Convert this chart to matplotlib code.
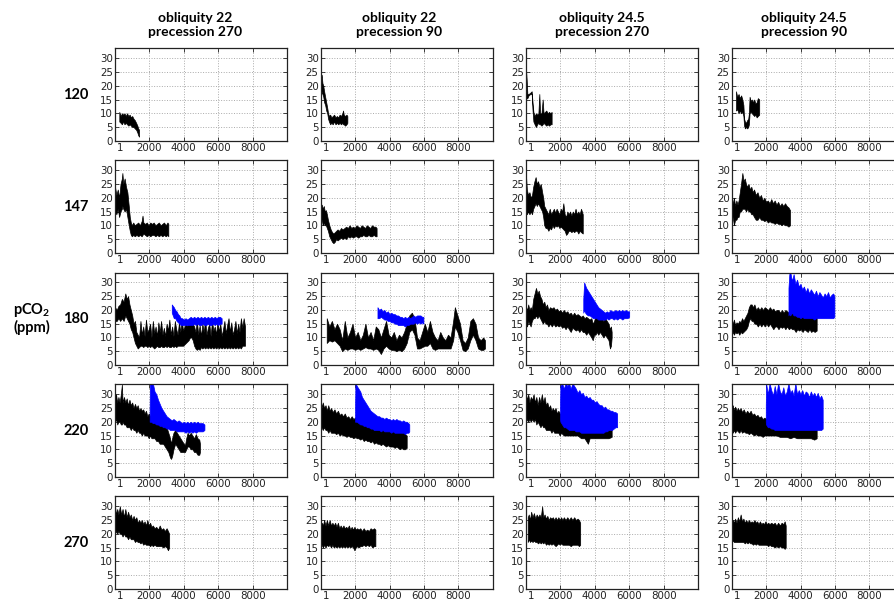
import matplotlib
matplotlib.use("Agg")
import matplotlib.pyplot as plt
from matplotlib.transforms import offset_copy

# ---------------- data (time, lower envelope, upper envelope) ----------------
co2_levels = ["120", "147", "180", "220", "270"]
col_titles = ["obliquity 22\nprecession 270", "obliquity 22\nprecession 90",
              "obliquity 24.5\nprecession 270", "obliquity 24.5\nprecession 90"]
x_ticks = [1, 2000, 4000, 6000, 8000]
x_tick_labels = ["1", "2000", "4000", "6000", "8000"]
y_ticks = [0, 5, 10, 15, 20, 25, 30]

r1c1 = [(250,7,10.5),(330,6.5,9),(400,6,10),(480,7,9.5),(550,6,10),(630,6.5,9),(700,6,10),(780,5.5,9),
        (850,6,9.5),(930,5.5,8.5),(1000,5,9),(1080,5,8),(1150,4.5,7.5),(1230,4,6.5),(1300,3,5.5),
        (1350,2,4.5),(1400,1.5,4)]
r1c2 = [(0,13,25),(30,17,23),(60,18,24),(100,17,21),(150,16,20),(200,14,18),(260,13,16),(320,11,14),
        (380,10,12),(430,8,10),(480,7,9),(550,6,9.5),(620,6.5,8.5),(700,6,9),(780,7,9.5),(860,6,8.5),
        (940,6.5,9),(1020,6,8.5),(1100,6.5,9.5),(1180,6,9),(1260,6.5,10),(1300,6,11),(1340,6,9.5),
        (1420,5.5,9),(1500,6,9.5),(1550,6.5,9)]
r1c3 = [(0,15,26),(40,15.5,22),(80,15.5,17),(150,16.5,17),(250,17,17.5),(330,17,18),(380,11,14),
        (430,7,10.5),(500,6,9),(580,5,10),(650,6,9.5),(720,6.5,10),(775,6,17),(820,6,10),(900,5.5,10),
        (970,6,15),(1020,6.5,10),(1100,6,10.5),(1180,5.5,11),(1260,6,10),(1340,5.5,10.5),(1420,6,10),
        (1490,6,10.5)]
r1c4 = [(250,11,18),(320,11.5,16),(400,10,17),(470,11,15.5),(550,10,16.5),(620,10.5,15),(680,9,13),
        (720,5.5,8),(770,4.5,7),(830,5,6.5),(900,4.5,7.5),(960,5,8),(1000,6,10),(1040,10,16),
        (1100,10.5,14.5),(1170,10,15),(1240,9.5,14),(1310,9,15),(1380,9.5,13.5),(1450,8.5,14),
        (1520,9,15.5),(1600,9.5,15)]

r2c1 = [(0,15,24),(80,14,21),(160,16,23),(240,13,20),(320,15,25),(400,16,27),(430,17,29),(480,16,25),
        (560,15,27),(640,16,24),(720,13,22),(800,10,17),(860,8,13),(920,6.5,11),(980,6,10),(1060,6.5,11),
        (1150,6,10),(1250,6.5,10.5),(1350,6,11),(1450,6.5,10),(1550,6,11.5),(1600,6.5,13.5),(1650,7,11),
        (1750,6.5,10.5),(1850,6,11),(1950,6.5,10),(2050,6,11),(2150,6.5,10.5),(2250,6.5,11),(2350,6,10),
        (2450,6.5,10.5),(2550,6,11),(2650,6.5,10),(2750,6,10.5),(2850,6.5,11),(2950,6,10),(3050,6.5,11),
        (3100,6,10.5)]
r2c2 = [(0,11,17),(60,12,17.5),(120,10,16),(180,11,17),(240,10,15),(300,10,15.5),(360,9,14),(420,8,12),
        (500,6,10),(580,5,8.5),(660,4,7.5),(740,3.5,7),(820,4,7.5),(900,5,8),(980,4.5,8.5),(1080,5,8),
        (1180,5.5,9),(1280,5,8.5),(1380,5.5,9),(1480,5,9.5),(1580,6,9),(1680,5.5,10),(1780,6,9),
        (1880,5.5,9.5),(1980,6,9),(2080,6,10),(2180,5.5,9.5),(2280,6,9),(2380,6,10),(2480,6.5,9.5),
        (2580,6,9),(2680,6,10),(2780,6.5,9.5),(2880,6,9),(2980,6,10),(3080,6.5,9.5),(3180,6,9.5),
        (3250,6,9)]
r2c3 = [(0,15,28),(50,14,23),(120,15,21),(200,14,22),(280,15,20),(350,14,21),(420,16,24),(490,17,26),
        (560,18,27.5),(630,17,25),(700,18,26),(780,17,24),(860,16,25),(940,15,22),(1000,13,20),
        (1060,10,17),(1140,9,16),(1220,9,15),(1300,8,14),(1380,9,16),(1460,8.5,14),(1540,10,15),
        (1620,9,16),(1700,10,14.5),(1780,9.5,16),(1860,10,15),(1940,9,14),(2020,9.5,16),(2100,9,15),
        (2170,8.5,18),(2250,8,14),(2330,6.5,13),(2400,7,15),(2480,8,14),(2560,8,15),(2640,7.5,13.5),
        (2720,8,15),(2800,7.5,14),(2880,8,16),(2960,8,14),(3040,7,15),(3120,8,14),(3200,7.5,16),
        (3300,7,14)]
r2c4 = [(0,12,19),(60,13,18),(130,10,20),(200,12,17),(270,12,19),(340,13,17.5),(400,13,19),(470,15,22),
        (540,15,25),(620,16,29),(690,16,26),(760,16,27),(830,15,25),(900,16,24),(980,15,25),(1060,15,23),
        (1140,14,24),(1220,14,22),(1300,13,23),(1400,12,21),(1500,12,22),(1600,13,20),(1700,12,21),
        (1800,12,19),(1900,11.5,20),(2000,12,18.5),(2100,11,19),(2200,11.5,18),(2300,11,19.5),
        (2400,11,18),(2500,10.5,19),(2600,11,17.5),(2700,10.5,18.5),(2800,10.5,17),(2900,10,18),
        (3000,10.5,17),(3100,10,18),(3200,10,17),(3300,9.5,16.5),(3390,10,15.5)]

r3c1 = [(0,16,21),(100,16,20),(200,17,21.5),(300,16,22),(400,17,24),(500,16,23),(600,18,26),(680,17,24),
        (760,16,25),(840,15,22),(920,13,20),(1000,12,18),(1080,10,15),(1160,8,16),(1240,7,12),(1320,6,11),
        (1400,6.5,10),(1480,7,16),(1560,7,11),(1640,6.5,14),(1720,7,10.5),(1800,7,16.5),(1880,6.5,12),
        (1960,7,13),(2040,6.5,15),(2120,7,10),(2200,6.5,16),(2280,6,11.5),(2360,6.5,14),(2440,7,10.5),
        (2520,6.5,15.5),(2600,6.5,12),(2680,7,16),(2760,6.5,11),(2840,6.5,13.5),(2920,7,10.5),
        (3000,6.5,15),(3080,7,12.5),(3160,6.5,16.5),(3240,6.5,11),(3320,7,14),(3400,6.5,10.5),
        (3480,7,16),(3560,6.5,13),(3640,7,11),(3720,7,15.5),(3800,7,12),(3880,7,16),(3960,7,12.5),
        (4040,7.5,14),(4120,8,15),(4200,8.5,14),(4280,9,16),(4360,10,15),(4440,10,17),(4520,9,15),
        (4600,7,14),(4680,6,12),(4760,5.5,16),(4840,6,11),(4920,5.5,14.5),(5000,6.5,10.5),(5080,6,15),
        (5160,6.5,12),(5240,6,16.5),(5320,6.5,11),(5400,6,13.5),(5480,6.5,15),(5560,6,10.5),
        (5640,6.5,16),(5720,6,12.5),(5800,6.5,14),(5880,6,11),(5960,6.5,16.5),(6040,6,12),(6120,6.5,15),
        (6200,6,10.5),(6280,6.5,13),(6360,6,16),(6440,6.5,11.5),(6520,6,14.5),(6600,6.5,17),
        (6680,6,12),(6760,6.5,15.5),(6840,6,11),(6920,6.5,13),(7000,6,16),(7080,6.5,11.5),(7160,6,15),
        (7240,6.5,12),(7320,6,17),(7400,7,13.5),(7480,7,17),(7560,7,14)]
r3c1_blue = [(3300,19,22),(3360,18,21.5),(3420,17,21),(3500,17,20),(3580,16,19.5),(3660,15.5,18.5),
             (3740,15,18),(3820,14.5,17),(3900,14.5,17),(4000,14.5,16.5),(4100,14.5,17),(4200,14.5,16.5),
             (4300,14.5,17),(4400,14.5,17.5),(4500,14.5,17),(4600,15,17.5),(4700,14.5,17),(4800,15,17.5),
             (4900,14.5,17),(5000,14.5,17.5),(5100,15,17),(5200,14.5,17.5),(5300,14.5,17),(5400,15,17.5),
             (5500,14.5,17),(5600,14.5,17.5),(5700,15,17),(5800,14.5,17.5),(5900,15,17),(6000,14.5,17.5),
             (6100,15,17.5),(6200,15,17)]
r3c2 = [(350,8,17),(500,9,14),(650,8.5,16),(800,9,13),(950,8,15),(1100,7,13),(1250,5,9),(1400,6,16),
        (1550,5.5,10),(1700,6,12),(1850,6,15),(2000,5.5,10),(2150,6,12),(2300,5.5,9),(2450,6,11),
        (2600,6.5,15),(2750,6,10),(2900,6,12),(3050,5.5,9),(3200,6,14),(3350,5.5,13),(3500,4,10),
        (3650,6,13),(3800,7,16),(3950,6,11),(4100,5.5,10),(4250,5.5,12),(4400,5,9),(4550,5.5,11),
        (4700,5,10),(4850,6,12),(5000,8,15),(5150,12,18),(5300,13,19),(5450,11,17),(5600,6,10),
        (5750,6,9),(5900,6.5,12),(6050,7,15),(6200,7,12),(6350,8,16),(6500,6,12),(6650,5.5,10),
        (6800,6,9),(6950,6,12),(7100,6,10),(7250,6,9),(7400,6,11),(7550,6,10),(7700,9,16),(7800,14,21),
        (7950,12,18),(8100,9,15),(8250,5.5,9),(8400,5,8),(8550,6,10),(8700,9,16),(8850,11,17),
        (9000,9,15),(9150,6,10),(9300,5.5,9),(9450,5.5,10),(9550,6,9)]
r3c2_blue = [(3300,17,21),(3400,17,20),(3500,17.5,20.5),(3600,17,19.5),(3700,16.5,20),(3800,16.5,19),
             (3900,16,19.5),(4000,16,18.5),(4100,15.5,19),(4200,15.5,18.5),(4300,15,18.5),(4400,15,18),
             (4500,14.5,18),(4600,14.5,17.5),(4700,14.5,17.5),(4800,14.5,17),(4900,14,17.5),(5000,14.5,17),
             (5100,14.5,17.5),(5200,15,17),(5300,15,17.5),(5400,15,18),(5500,15.5,17.5),(5600,15,18),
             (5700,15.5,18),(5800,15,18),(5900,15.5,17.5),(5970,15,17.5)]
r3c3 = [(0,15,21),(60,14,20),(130,16,22),(200,15,20),(270,14,21),(340,16,20),(420,17,24),(500,17,26),
        (580,18,28),(660,17,26),(740,18,27),(820,17,25),(900,16,24),(980,15,22),(1060,16,23),(1140,15,21),
        (1220,15,22),(1300,14,20),(1400,15,21),(1500,14,20.5),(1600,15,21),(1700,14,20),(1800,14.5,20.5),
        (1900,14,19.5),(2000,14.5,20),(2100,13.5,19),(2200,14,20),(2300,13,19),(2400,14,19.5),
        (2500,13,18.5),(2600,12,19),(2700,13.5,18),(2800,13,19),(2900,12.5,18),(3000,13,18.5),
        (3100,12,18),(3200,13,17.5),(3300,12,18),(3400,12,17),(3500,11,17.5),(3600,12,17),(3700,11,16.5),
        (3800,10,17),(3880,9,15),(3960,11,16),(4040,11,18),(4120,12,17),(4200,11,18),(4300,12,16.5),
        (4400,11,17),(4500,10,16),(4600,11,17),(4700,10,16),(4800,9,15),(4880,6,13),(4940,7,14),
        (4980,10,12)]
r3c3_blue = [(3330,19,24),(3380,20,30),(3440,19,29),(3500,18.5,28),(3600,18,27),(3700,18,26),
             (3800,17.5,25),(3900,17,24),(4000,17,23),(4100,17,22),(4200,16.5,21),(4300,16.5,20.5),
             (4400,16.5,20),(4500,16.5,19.5),(4600,16.5,19),(4700,17,19.5),(4800,16.5,19),(4900,17,20),
             (5000,17,19.5),(5100,16.5,19.5),(5200,17,20),(5300,16.5,19.5),(5400,17,20),(5500,17,19.5),
             (5600,16.5,20),(5700,17,19.5),(5800,17,20),(5900,17,19.5),(6000,17.5,19.5)]
r3c4 = [(0,11,16),(60,12,15),(130,11,16.5),(200,12,14.5),(280,11.5,15.5),(360,12,15),(440,11,16),
        (520,12,15.5),(600,11.5,17),(680,12,16),(760,12.5,17),(840,13,18),(920,14,19),(1000,16,21),
        (1080,17,22),(1160,16,22),(1240,16,21),(1320,15,22),(1420,15,20),(1520,14,21),(1620,15,20),
        (1720,14,21),(1820,15,20),(1920,14,21),(2020,15,20.5),(2120,14,20),(2220,15,21),(2320,14,20),
        (2420,13,20.5),(2520,14,19.5),(2620,14,20),(2720,13,20),(2820,14,19),(2920,13.5,20),(3020,14,19),
        (3120,13,20),(3220,14,19.5),(3320,13,19),(3420,13.5,20),(3520,13,19),(3620,13,19.5),(3720,12,19),
        (3820,13,19.5),(3920,12.5,19),(4020,13,20),(4120,12,19),(4220,13,19.5),(4320,12.5,18.5),
        (4420,12,19),(4520,13,19.5),(4620,12,18.5),(4720,12.5,19),(4820,12,18.5),(4940,12.5,18)]
r3c4_blue = [(3300,18,28),(3350,19,33),(3400,18,34),(3500,19,30.5),(3600,18,33),(3700,18,29.5),
             (3800,17.5,31),(3900,17.5,28.5),(4000,17,29.5),(4100,17.5,27.5),(4200,17,28.5),(4300,17,26.5),
             (4400,17,28),(4500,17,26),(4600,17,27.5),(4700,17,26.5),(4800,16.5,25.5),(4900,17,27),
             (5000,17,25),(5100,17,26.5),(5200,17,25.5),(5300,17,24.5),(5400,17,26),(5500,17,25),
             (5600,17,26.5),(5700,17,24.5),(5800,17,25.5),(5900,17,26),(5970,17.5,25)]

r4c1 = [(0,20,28),(60,21,30),(130,19,27),(200,20,29),(270,20,27),(340,19,30),(400,19,33.5),(440,20,27),
        (520,19,29),(600,19,27),(680,18,28.5),(760,18,26),(840,18,28),(920,17,26),(1000,18,27),
        (1080,17,25),(1160,17,26.5),(1240,16,25),(1320,17,26),(1400,16,24),(1480,16,25),(1560,15,24),
        (1640,16,24.5),(1720,15,23),(1800,15,24),(1880,15,22),(1960,14,23),(2040,15,22),(2120,14,22),
        (2200,14,21),(2300,14,21.5),(2400,13,20),(2500,13,21),(2600,12,19),(2700,12,20),(2800,12,19),
        (2900,11,18),(3000,10,18),(3100,9,16),(3200,7,14),(3260,6.5,12),(3320,7.5,14),(3400,10,16),
        (3500,12,17),(3600,11,16),(3700,10,15),(3800,9,14),(3900,9,13),(4000,9,12),(4070,9,11.5),
        (4140,10,14),(4220,11,16),(4300,11,15),(4400,10,16),(4500,10,15),(4600,9,14),(4700,9,15.5),
        (4800,8,14),(4900,8,13.5),(4940,9,12)]
r4c1_blue = [(2015,20,24),(2030,20,34),(2100,20,34),(2200,19.5,34),(2300,19.5,31),(2400,19,30),
             (2500,19,28),(2600,18.5,26.5),(2700,18.5,25),(2800,18,24),(2900,18,23),(3000,17.5,22),
             (3100,17.5,21.5),(3200,17,21),(3300,17,20.5),(3400,17,21),(3500,17,20.5),(3600,16.5,20),
             (3700,16.5,20.5),(3800,16.5,20),(3900,16.5,19.5),(4000,16.5,20),(4100,16,19.5),(4200,16.5,20),
             (4300,16,19.5),(4400,16.5,20),(4500,16,19.5),(4600,16.5,20),(4700,16,19.5),(4800,16.5,20),
             (4900,16.5,19.5),(5000,16.5,19.5),(5100,16.5,19.5),(5200,17,19)]
r4c2 = [(0,17,29),(50,18,25),(120,17,27),(200,18,25),(280,17,26),(360,17,24),(440,16,26),(520,17,24),
        (600,16,25),(700,16,23.5),(800,16,24.5),(900,15.5,23),(1000,16,24),(1100,15,22.5),(1200,15.5,23),
        (1300,15,22),(1400,15,23),(1500,14.5,21.5),(1600,15,22),(1700,14.5,21),(1800,14.5,22),(1900,14,21),
        (2000,14.5,21.5),(2100,14,20.5),(2200,14,21),(2300,13.5,20),(2400,14,21),(2500,13,20),
        (2600,13.5,20.5),(2700,13,19.5),(2800,13,20),(2900,12.5,19),(3000,13,19.5),(3100,12,19),
        (3200,12.5,19),(3300,12,18.5),(3400,12,19),(3500,11.5,18),(3600,12,18.5),(3700,11.5,18),
        (3800,11,18),(3900,11.5,17.5),(4000,11,18),(4100,11,17),(4200,11,17.5),(4300,10.5,17),
        (4400,11,17.5),(4500,10.5,16.5),(4600,10,17),(4700,10.5,16),(4800,10,16.5),(4900,10,15.5),
        (5000,10.5,15)]
r4c2_blue = [(2000,20,26),(2020,20,34),(2100,20,33),(2200,19.5,32),(2300,19,31),(2400,19,29),(2500,18.5,28),
             (2600,18.5,27),(2700,18,26),(2800,18,25),(2900,17.5,24),(3000,17.5,23.5),(3100,17,23),
             (3200,17,22.5),(3300,17,22),(3400,17,22),(3500,16.5,21.5),(3600,17,21.5),(3700,16.5,21),
             (3800,16.5,21.5),(3900,16.5,21),(4000,16.5,21),(4100,16,20.5),(4200,16.5,21),(4300,16,20.5),
             (4400,16,21),(4500,16,20.5),(4600,16,20.5),(4700,16,20),(4800,16,20.5),(4900,15.5,20),
             (5000,16,20),(5100,16,19.5),(5150,16.5,19)]
r4c3 = [(0,20,30),(60,21,28),(130,20,30),(200,21,27),(280,20,29),(360,21,28),(440,20,30),(520,21,27),
        (600,19,29),(680,20,26),(760,19,29),(840,18,27),(920,19,30),(1000,18,27),(1080,18,29),(1160,17,26),
        (1240,17,27),(1320,17,25),(1400,17,26),(1480,16,24),(1560,17,25),(1640,16,24),(1720,16,25),
        (1800,16,23),(1880,16,24),(1960,15,23),(2040,16,23),(2200,15,22),(2400,15,22),(2600,15,21),
        (2800,15,20.5),(3000,15,20),(3200,14,20),(3400,14,19),(3500,13,19),(3600,12,18.5),(3700,14,19),
        (3800,14,19),(4000,14,19),(4200,14,18.5),(4400,14,19),(4600,14,18.5),(4800,14,18),(4980,14.5,18)]
r4c3_blue = [(1980,21,27),(2000,20,33),(2100,19,34),(2200,18,32),(2300,18,34),(2400,17.5,33),(2500,17,34),
             (2600,17,32),(2700,17,34),(2800,17,33),(2900,16.5,32),(3000,16.5,30.5),(3100,16.5,31.5),
             (3200,16,30),(3300,16,30.5),(3400,16,29),(3500,16,29.5),(3600,16,28.5),(3700,16,29),
             (3800,16,28),(3900,16,28),(4000,16,27),(4100,16,27.5),(4200,16,26.5),(4300,16,26),
             (4400,16,26),(4500,16,25),(4600,16.5,25.5),(4700,16.5,24.5),(4800,17,24.5),(4900,17,24),
             (5000,17,24),(5100,17.5,23.5),(5200,18,23.5),(5300,18,23)]
r4c4 = [(0,17,25),(60,16,26),(130,17,24),(200,16,25.5),(280,17,24),(360,16.5,25),(440,16,24),(520,17,25),
        (600,16,23.5),(700,16.5,24.5),(800,16,23),(900,16,24),(1000,15.5,23),(1100,16,24),(1200,15.5,22.5),
        (1300,15,23),(1400,15.5,22),(1500,15,22.5),(1600,15,21.5),(1700,15,22),(1800,14.5,21),
        (1900,15,21.5),(2000,15,21),(2200,15,21),(2400,15,20.5),(2600,15,20),(2800,14.5,20),
        (3000,14.5,19.5),(3200,14.5,20),(3400,14,19),(3600,14.5,19.5),(3800,14,19),(4000,14,19),
        (4200,14,18.5),(4400,14,19),(4600,14,18.5),(4800,13.5,18.5),(4940,14,17.5)]
r4c4_blue = [(1980,20,26),(2000,19,34),(2100,18,30),(2200,18,34),(2300,17.5,31.5),(2400,17.5,29.5),
             (2500,17,33),(2600,17,30),(2700,17,34),(2800,17,31),(2900,17,30),(3000,17,32.5),(3100,17,29.5),
             (3200,17,31),(3300,17,34),(3400,17,30.5),(3500,17,31.5),(3600,17,29.5),(3700,17,34),
             (3800,17,30),(3900,17,31.5),(4000,17,30),(4100,17,31.5),(4200,17,29.5),(4300,17,31),
             (4400,17,30.5),(4500,17,29),(4600,17,31),(4700,17,29.5),(4800,17,30.5),(4900,17,29),
             (5000,17,30.5),(5100,17,28.5),(5200,17,29.5),(5290,17.5,28)]

r5c1 = [(0,20,30),(60,21,27),(130,20,29),(200,21,27),(280,20,30),(360,20,27),(440,19,29),(520,20,26),
        (600,19,29),(680,19,26),(760,18,28),(840,19,26),(920,18,27),(1000,18,25),(1080,18,26.5),
        (1160,17,25),(1240,17.5,26),(1320,17,24),(1400,17,25),(1480,16.5,24),(1560,17,25),(1640,16,23.5),
        (1720,16.5,24.5),(1800,16,23),(1880,16,25),(1960,16,23),(2040,15.5,24),(2120,16,22.5),
        (2200,15.5,23),(2300,16,22),(2400,15.5,22.5),(2500,15.5,21.5),(2600,15.5,23),(2700,15.5,21.5),
        (2800,15,22),(2900,15.5,21),(3000,15,22),(3080,14,21),(3150,15,20)]
r5c2 = [(0,15,22),(60,16,24),(130,15,23),(200,16,25),(280,15,23),(360,16,25),(440,15.5,23),(520,16,25),
        (600,15,23),(680,16,24),(760,15,23),(840,15.5,24),(920,15,22.5),(1000,15.5,24),(1080,15,22),
        (1160,15.5,23),(1240,15,22),(1320,15.5,23),(1400,15,22),(1480,15.5,22.5),(1560,15,22),
        (1640,15.5,23),(1720,15,21.5),(1800,15.5,22.5),(1880,15,21.5),(1960,14,22.5),(2040,15,21.5),
        (2120,15.5,22),(2200,15,21.5),(2300,15.5,22),(2400,15.5,21),(2500,16,22),(2600,15.5,21),
        (2700,16,21.5),(2800,15.5,21),(2900,16,22),(3000,15,21.5),(3100,15.5,22),(3180,15.5,21.5)]
r5c3 = [(100,17,26),(160,18,27),(230,17,25),(300,17.5,28),(380,17,26),(460,17.5,27.5),(540,17,25.5),
        (620,17,27),(700,16.5,26),(780,17,27),(860,16.5,26),(940,17,30),(1000,16.5,26),(1080,17,27),
        (1160,16,25.5),(1240,16.5,26.5),(1320,16,25),(1400,16.5,26),(1480,16,25.5),(1560,16.5,26),
        (1640,16,25),(1720,15.5,26),(1800,16,25),(1880,16.5,26),(1960,16,25),(2040,16.5,26),(2120,16,25),
        (2200,16,26),(2300,16,25),(2400,16,26),(2500,16,25),(2600,15.5,26),(2700,16,25),(2800,16,26),
        (2900,16,25),(3000,16,25.5),(3080,15.5,25),(3150,16,24)]
r5c4 = [(0,17,24),(60,17.5,25),(130,17,24),(200,17,25.5),(280,17,24),(360,17,26),(440,17,24.5),(520,17,27),
        (600,17,24.5),(680,17,25.5),(760,16.5,24),(840,17,25),(920,16.5,24),(1000,17,25),(1080,16.5,24),
        (1160,16.5,24.5),(1240,16,24),(1320,16.5,25),(1400,16,24),(1480,16.5,24.5),(1560,16,23.5),
        (1640,16,24.5),(1720,16,23.5),(1800,16,24),(1880,16,23.5),(1960,16,24.5),(2040,16,23.5),
        (2120,15.5,24),(2200,16,23.5),(2300,15.5,24),(2400,15.5,23.5),(2500,15,24),(2600,15.5,23),
        (2700,15,24),(2800,15.5,23),(2900,15,24),(3000,15,23.5),(3080,14.5,24.5),(3140,15,23)]

black_runs = [[r1c1, r1c2, r1c3, r1c4],
              [r2c1, r2c2, r2c3, r2c4],
              [r3c1, r3c2, r3c3, r3c4],
              [r4c1, r4c2, r4c3, r4c4],
              [r5c1, r5c2, r5c3, r5c4]]
blue_runs = {(2, 0): r3c1_blue, (2, 1): r3c2_blue, (2, 2): r3c3_blue, (2, 3): r3c4_blue,
             (3, 0): r4c1_blue, (3, 1): r4c2_blue, (3, 2): r4c3_blue, (3, 3): r4c4_blue}

# ---------------- layout ----------------
W, H = 894, 604
plt.rcParams['mathtext.fontset'] = 'custom'
plt.rcParams['mathtext.rm'] = 'Lato'
plt.rcParams['mathtext.bf'] = 'Lato:bold'

fig = plt.figure(figsize=(W / 100, H / 100), dpi=100)
lefts = [115, 320.7, 526, 731.7]
tops = [48.3, 160.3, 272.5, 384.3, 496.3]
aw, ah = 172, 92.5
title_cx = [195, 399, 602, 804]
TICK_FS = 7.4


def draw(ax, run, color):
    t = [p[0] for p in run]
    lo = [p[1] for p in run]
    hi = [p[2] for p in run]
    ax.fill_between(t, lo, hi, facecolor=color, edgecolor=color, linewidth=0.5)


for r in range(5):
    for c in range(4):
        ax = fig.add_axes([lefts[c] / W, 1 - (tops[r] + ah) / H, aw / W, ah / H])
        draw(ax, black_runs[r][c], 'black')
        if (r, c) in blue_runs:
            draw(ax, blue_runs[(r, c)], '#0000ff')
        ax.set_xlim(0, 10000)
        ax.set_ylim(0, 33.6)
        ax.set_xticks(x_ticks)
        ax.set_xticklabels(["" if s == "1" else s for s in x_tick_labels])
        ax.set_yticks(y_ticks)
        ax.tick_params(direction='in', length=3, width=0.6, top=True, right=True,
                       labelsize=TICK_FS, pad=1.5, colors='#222222')
        ax.grid(True, linestyle=':', color='#aaaaaa', linewidth=0.7)
        ax.set_axisbelow(True)
        for s in ax.spines.values():
            s.set_linewidth(0.9)
            s.set_color('#222222')
        # label "1" sits slightly right of the spine in the reference
        ax.text(x_ticks[0], 0, "1", fontsize=TICK_FS, color='#222222', ha='center', va='top',
                transform=offset_copy(ax.get_xaxis_transform(), fig=fig, x=5.5, y=-2.3, units='dots'))

for c in range(4):
    fig.text(title_cx[c] / W, 1 - 25 / H, col_titles[c], ha='center', va='center',
             fontsize=10, fontweight='bold', family='Lato', linespacing=1.25)

for r in range(5):
    cy = tops[r] + ah / 2
    fig.text(76 / W, 1 - cy / H, co2_levels[r], ha='center', va='center',
             fontsize=10.5, fontweight='bold', family='Lato')

fig.text(32 / W, 1 - 318 / H, "pCO$_\\mathbf{2}$\n(ppm)", ha='center', va='center',
         fontsize=10.5, fontweight='bold', family='Lato', linespacing=1.1)

fig.savefig("out.png", dpi=100)
